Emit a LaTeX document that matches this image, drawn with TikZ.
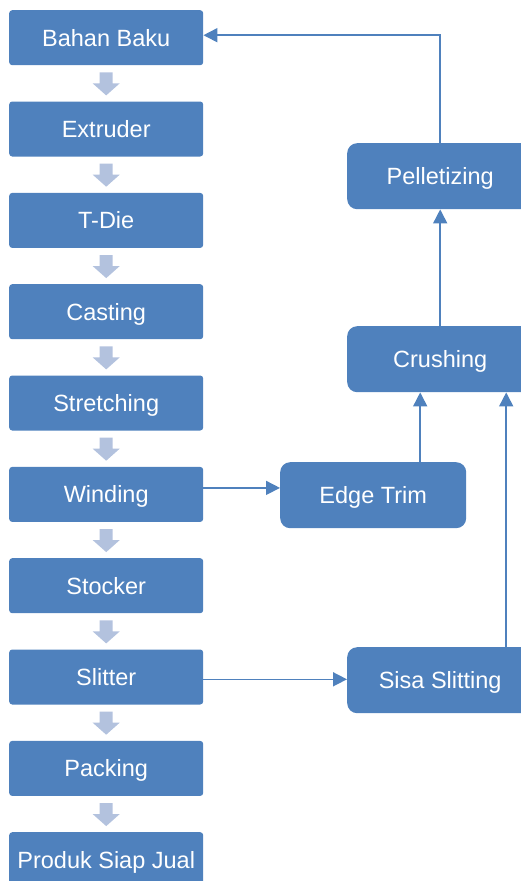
\documentclass[tikz,border=0pt]{standalone}
\usepackage{fontspec}
\setmainfont{Liberation Sans}
\usetikzlibrary{arrows.meta}
\definecolor{boxblue}{HTML}{4F81BD}
\definecolor{pale}{HTML}{B3C2DE}
\begin{document}
\begin{tikzpicture}[x=1pt,y=-1pt,
  boxtext/.style={inner sep=0pt, text=white, font=\fontsize{23.5}{28}\selectfont,
    text height=16.8pt, text depth=0pt, anchor=north west},
  lbox/.style={boxtext, fill=boxblue, rounded corners=3pt, minimum width=194pt, minimum height=55pt},
  rbox/.style={boxtext, fill=boxblue, rounded corners=10pt, minimum width=186pt, minimum height=66pt},
  conn/.style={draw=boxblue, line width=1.6pt, -{Triangle[length=14pt,width=14pt]}},
  blockarrow/.style={fill=pale}]
\useasboundingbox (0,0) rectangle (521,881);
\clip (0,0) rectangle (521,881);
% left column
\node[lbox] (b0) at (9,10) {Bahan Baku};
\node[lbox] (b1) at (9,101.3) {Extruder};
\node[lbox] (b2) at (9,192.7) {T-Die};
\node[lbox] (b3) at (9,284) {Casting};
\node[lbox] (b4) at (9,375.3) {Stretching};
\node[lbox] (b5) at (9,466.7) {Winding};
\node[lbox] (b6) at (9,558) {Stocker};
\node[lbox] (b7) at (9,649.3) {Slitter};
\node[lbox] (b8) at (9,740.7) {Packing};
\node[lbox] (b9) at (9,832) {Produk Siap Jual};
% right column
\node[rbox] (pel) at (347,143) {Pelletizing};
\node[rbox] (cru) at (347,326) {Crushing};
\node[rbox] (edg) at (280,462) {Edge Trim};
\node[rbox] (sis) at (347,647) {Sisa Slitting};
% block arrows
\foreach \n in {b0,b1,b2,b3,b4,b5,b6,b7,b8}{
  \begin{scope}[shift={(\n.south)}]
    \fill[blockarrow] (-6.5,7) -- (6.5,7) -- (6.5,18) -- (13.5,18) -- (0,30) -- (-13.5,18) -- (-6.5,18) -- cycle;
  \end{scope}
}
% connectors
\draw[conn] (pel.north) |- ([yshift=2.5pt]b0.east);
\draw[conn] (cru.north) -- (pel.south);
\draw[conn] ([xshift=47pt]edg.north) -- ([xshift=47pt]edg.north |- cru.south);
\draw[conn] ([xshift=66pt]sis.north) -- ([xshift=66pt]sis.north |- cru.south);
\draw[conn] ([yshift=6.5pt]b5.east) -- ([yshift=6.5pt]b5.east -| edg.west);
\draw[conn] ([yshift=-2.3pt]b7.east) -- ([yshift=-2.3pt]b7.east -| sis.west);
\end{tikzpicture}
\end{document}
